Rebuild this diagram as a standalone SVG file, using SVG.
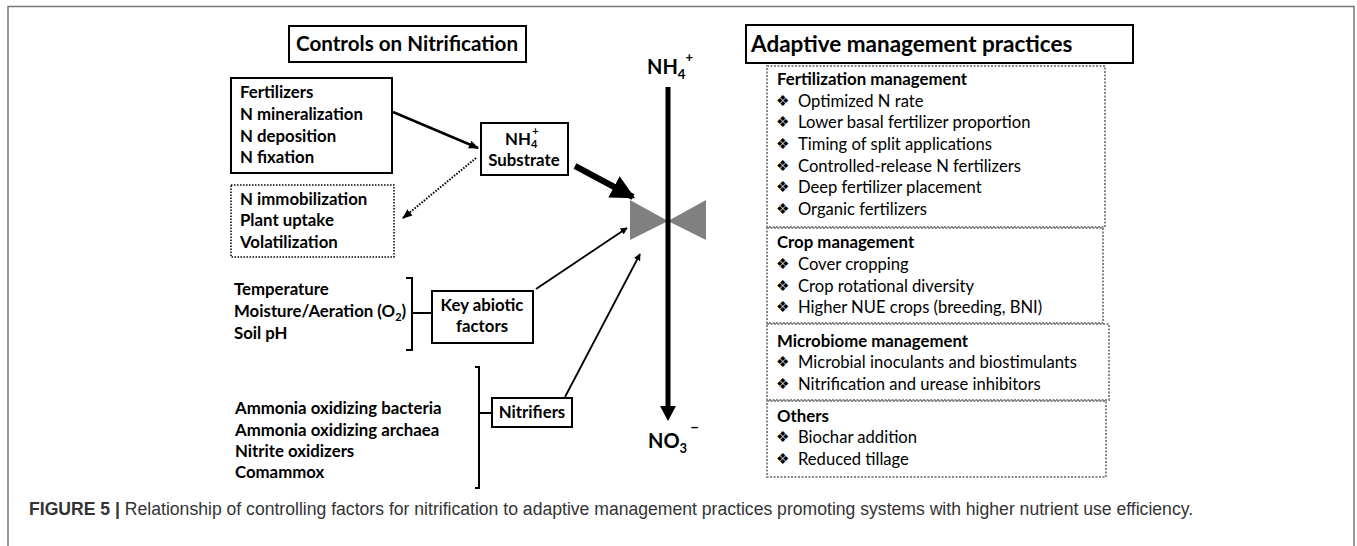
<svg xmlns="http://www.w3.org/2000/svg" width="1357" height="546" viewBox="0 0 1357 546">
<style>
.b{font-family:Lato,"Liberation Sans",sans-serif;font-weight:bold;font-size:16.8px;fill:#000}
.r{font-family:Lato,"Liberation Sans",sans-serif;font-size:16.6px;fill:#000}
.t{font-family:Lato,"Liberation Sans",sans-serif;font-weight:bold;font-size:22px;fill:#000}
.bul{font-family:"DejaVu Sans",sans-serif;font-size:15px;fill:#000}
.box{fill:#fff;stroke:#000;stroke-width:2}
.dot{fill:none;stroke:#888;stroke-width:2;stroke-dasharray:2 1.5}
.cap{font-family:"Liberation Sans",Arial,sans-serif;font-size:17.6px;fill:#333}
</style>
<defs>
<marker id="ah" viewBox="0 0 10 10" refX="9" refY="5" markerWidth="7" markerHeight="7" orient="auto" markerUnits="userSpaceOnUse">
<path d="M0,0 L10,5 L0,10 z" fill="#000"/>
</marker>
<marker id="ahs" viewBox="0 0 10 10" refX="9" refY="5" markerWidth="10" markerHeight="10" orient="auto" markerUnits="userSpaceOnUse">
<path d="M0,1 L10,5 L0,9 z" fill="#000"/>
</marker>
<marker id="ahb" viewBox="0 0 10 10" refX="9" refY="5" markerWidth="24" markerHeight="24" orient="auto" markerUnits="userSpaceOnUse">
<path d="M0,0 L10,5 L0,10 z" fill="#000"/>
</marker>
</defs>
<rect x="0" y="0" width="1357" height="546" fill="#fff"/>
<path d="M8,546 L8,6.5 L1354,6.5 L1354,546" fill="none" stroke="#777" stroke-width="1.5"/>

<g id="title-left">
<rect class="box" x="289" y="26" width="237" height="36"/>
<text class="t" x="407" y="51" text-anchor="middle" style="font-size:20.6px">Controls on Nitrification</text>
</g>

<g id="sources">
<rect class="box" x="231" y="78" width="161" height="95"/>
<text class="b" x="240" y="98">Fertilizers</text>
<text class="b" x="240" y="120">N mineralization</text>
<text class="b" x="240" y="142">N deposition</text>
<text class="b" x="240" y="163">N fixation</text>
</g>

<g id="sinks">
<rect x="231" y="185" width="163" height="72" fill="#fff" stroke="#000" stroke-width="1.5" stroke-dasharray="1.5 1.5"/>
<text class="b" x="240" y="205">N immobilization</text>
<text class="b" x="240" y="226">Plant uptake</text>
<text class="b" x="240" y="248">Volatilization</text>
</g>

<g id="substrate">
<rect class="box" x="481" y="123" width="87" height="52"/>
<text class="b" x="505" y="145">NH<tspan font-size="11" dy="3">4</tspan><tspan font-size="11" dx="-5" dy="-13">+</tspan></text>
<text class="b" x="524" y="166" text-anchor="middle">Substrate</text>
</g>

<g id="abiotic-list">
<text class="b" x="234" y="295">Temperature</text>
<text class="b" x="234" y="317">Moisture/Aeration (O<tspan font-size="11" dy="4">2</tspan><tspan dy="-4">)</tspan></text>
<text class="b" x="234" y="339">Soil pH</text>
<path d="M406,278 H412 V350 H406 M412,313 H432" fill="none" stroke="#000" stroke-width="2"/>
</g>

<g id="abiotic">
<rect class="box" x="432" y="291" width="101" height="52"/>
<text class="b" x="482" y="311" text-anchor="middle">Key abiotic</text>
<text class="b" x="482" y="332" text-anchor="middle">factors</text>
</g>

<g id="nitrifier-list">
<text class="b" x="235" y="414">Ammonia oxidizing bacteria</text>
<text class="b" x="235" y="436">Ammonia oxidizing archaea</text>
<text class="b" x="235" y="457">Nitrite oxidizers</text>
<text class="b" x="235" y="478">Comammox</text>
<path d="M475,367 H479 V488 H475 M479,413 H492" fill="none" stroke="#000" stroke-width="2"/>
</g>

<g id="nitrifiers">
<rect class="box" x="492" y="398" width="80" height="29"/>
<text class="b" x="532" y="418" text-anchor="middle">Nitrifiers</text>
</g>

<g id="pathway">
<text class="t" x="647" y="74" style="font-size:20px">NH<tspan font-size="13" dy="5">4</tspan><tspan font-size="13" dy="-17">+</tspan></text>
<path d="M630,200 L668,221 L630,240 Z M706,200 L668,221 L706,240 Z" fill="#808080"/>
<line x1="668" y1="87" x2="668" y2="408" stroke="#000" stroke-width="5"/>
<path d="M660,406 L676,406 L668,421 Z" fill="#000"/>
<text class="t" x="648" y="448" style="font-size:20px">NO<tspan font-size="13" dy="5">3</tspan><tspan font-size="15" dy="-20" dx="3">−</tspan></text>
</g>

<g id="connectors">
<line x1="393" y1="112" x2="478" y2="148" stroke="#000" stroke-width="2.5" marker-end="url(#ahs)"/>
<line x1="476" y1="158" x2="403" y2="218" stroke="#000" stroke-width="2" stroke-dasharray="1.5 1.5" marker-end="url(#ahs)"/>
<line x1="575" y1="166" x2="633" y2="197" stroke="#000" stroke-width="6" marker-end="url(#ahb)"/>
<line x1="536" y1="289" x2="627" y2="228" stroke="#000" stroke-width="1.8" marker-end="url(#ah)"/>
<line x1="565" y1="397" x2="640" y2="254" stroke="#000" stroke-width="1.8" marker-end="url(#ah)"/>
</g>

<g id="title-right">
<rect class="box" x="746" y="25" width="387" height="38"/>
<text class="t" x="751" y="52" style="font-size:22.5px">Adaptive management practices</text>
</g>

<g id="fertilization">
<rect class="dot" x="767" y="66" width="338" height="161"/>
<text class="b" x="777" y="85">Fertilization management</text>
<g class="bul"><text x="776" y="106">❖</text><text x="776" y="127">❖</text><text x="776" y="149">❖</text><text x="776" y="171">❖</text><text x="776" y="192">❖</text><text x="776" y="214">❖</text></g>
<text class="r" x="798" y="107">Optimized N rate</text>
<text class="r" x="798" y="128">Lower basal fertilizer proportion</text>
<text class="r" x="798" y="150">Timing of split applications</text>
<text class="r" x="798" y="172">Controlled-release N fertilizers</text>
<text class="r" x="798" y="193">Deep fertilizer placement</text>
<text class="r" x="798" y="215">Organic fertilizers</text>
</g>

<g id="crop">
<rect class="dot" x="767" y="228" width="336" height="95"/>
<text class="b" x="777" y="248">Crop management</text>
<g class="bul"><text x="776" y="269">❖</text><text x="776" y="291">❖</text><text x="776" y="312">❖</text></g>
<text class="r" x="798" y="270">Cover cropping</text>
<text class="r" x="798" y="292">Crop rotational diversity</text>
<text class="r" x="798" y="313">Higher NUE crops (breeding, BNI)</text>
</g>

<g id="microbiome">
<rect class="dot" x="767" y="324" width="342" height="76"/>
<text class="b" x="777" y="347">Microbiome management</text>
<g class="bul"><text x="776" y="367">❖</text><text x="776" y="389">❖</text></g>
<text class="r" x="798" y="368">Microbial inoculants and biostimulants</text>
<text class="r" x="798" y="390">Nitrification and urease inhibitors</text>
</g>

<g id="others">
<rect class="dot" x="767" y="401" width="339" height="76"/>
<text class="b" x="777" y="422">Others</text>
<g class="bul"><text x="776" y="442">❖</text><text x="776" y="464">❖</text></g>
<text class="r" x="798" y="443">Biochar addition</text>
<text class="r" x="798" y="465">Reduced tillage</text>
</g>

<g id="caption">
<text class="cap" x="29" y="515"><tspan font-weight="bold">FIGURE 5 |</tspan> Relationship of controlling factors for nitrification to adaptive management practices promoting systems with higher nutrient use efficiency.</text>
</g>
</svg>
